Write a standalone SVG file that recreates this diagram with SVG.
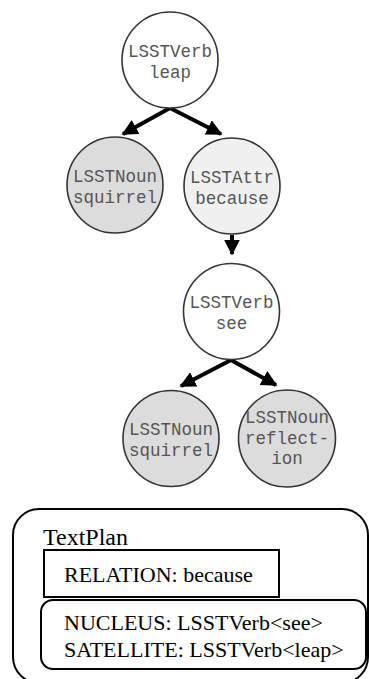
<svg xmlns="http://www.w3.org/2000/svg" width="369" height="679" viewBox="0 0 369 679">
  <defs>
    <marker id="arrow" markerWidth="4" markerHeight="4" refX="3.6" refY="2" orient="auto" markerUnits="strokeWidth">
      <path d="M0,0 L4,2 L0,4 Z" fill="#000"/>
    </marker>
    <style>
      .node circle { stroke: #333; stroke-width: 1.6; }
      .white { fill: #fff; }
      .gray { fill: #dcdcdc; }
      .light { fill: #f0f0f0; }
      .label { font-family: "Liberation Mono", "Courier New", monospace; font-size: 17.5px; fill: #555; text-anchor: middle; }
      .edge { stroke: #000; stroke-width: 4; fill: none; marker-end: url(#arrow); }
      .plan { fill: none; stroke: #000; stroke-width: 2; }
      .serif { font-family: "Liberation Serif", "Times New Roman", serif; fill: #000; }
    </style>
  </defs>

  <rect width="369" height="679" fill="#fff"/>

  <!-- connectors -->
  <g id="edges">
    <line class="edge" x1="170" y1="108" x2="123" y2="134"/>
    <line class="edge" x1="170" y1="108" x2="221" y2="134"/>
    <line class="edge" x1="232" y1="235" x2="232" y2="254"/>
    <line class="edge" x1="231" y1="360" x2="181" y2="386"/>
    <line class="edge" x1="231" y1="360" x2="276" y2="385"/>
  </g>

  <g id="n-leap" class="node">
    <circle class="white" cx="170" cy="60" r="48"/>
    <text class="label" x="170" y="56.5">LSSTVerb</text>
    <text class="label" x="170" y="77.5">leap</text>
  </g>

  <g id="n-squirrel1" class="node">
    <circle class="gray" cx="115" cy="185" r="48"/>
    <text class="label" x="115" y="181.5">LSSTNoun</text>
    <text class="label" x="115" y="202.5">squirrel</text>
  </g>

  <g id="n-because" class="node">
    <circle class="light" cx="232" cy="186" r="48"/>
    <text class="label" x="232" y="182.5">LSSTAttr</text>
    <text class="label" x="232" y="203.5">because</text>
  </g>

  <g id="n-see" class="node">
    <circle class="white" cx="231.5" cy="311.5" r="48"/>
    <text class="label" x="231.5" y="308">LSSTVerb</text>
    <text class="label" x="231.5" y="329">see</text>
  </g>

  <g id="n-squirrel2" class="node">
    <circle class="gray" cx="171" cy="438.5" r="48"/>
    <text class="label" x="171" y="435">LSSTNoun</text>
    <text class="label" x="171" y="456">squirrel</text>
  </g>

  <g id="n-reflection" class="node">
    <circle class="gray" cx="287" cy="438.5" r="48.5"/>
    <text class="label" x="287" y="423">LSSTNoun</text>
    <text class="label" x="287" y="443.5">reflect-</text>
    <text class="label" x="287" y="464">ion</text>
  </g>

  <!-- text plan panel; its lower edge runs just past the bottom of the canvas -->
  <g id="textplan">
    <rect class="plan" x="13" y="509" width="355" height="174" rx="26" ry="26"/>
    <text class="serif" x="43" y="545" font-size="24">TextPlan</text>
    <rect class="plan" x="44" y="550" width="235" height="47"/>
    <text class="serif" x="64" y="582" font-size="22">RELATION: because</text>
    <rect class="plan" x="41" y="600" width="325" height="69" rx="12" ry="12"/>
    <text class="serif" x="64" y="630" font-size="22">NUCLEUS: LSSTVerb&lt;see&gt;</text>
    <text class="serif" x="64" y="657" font-size="22">SATELLITE: LSSTVerb&lt;leap&gt;</text>
  </g>
</svg>
